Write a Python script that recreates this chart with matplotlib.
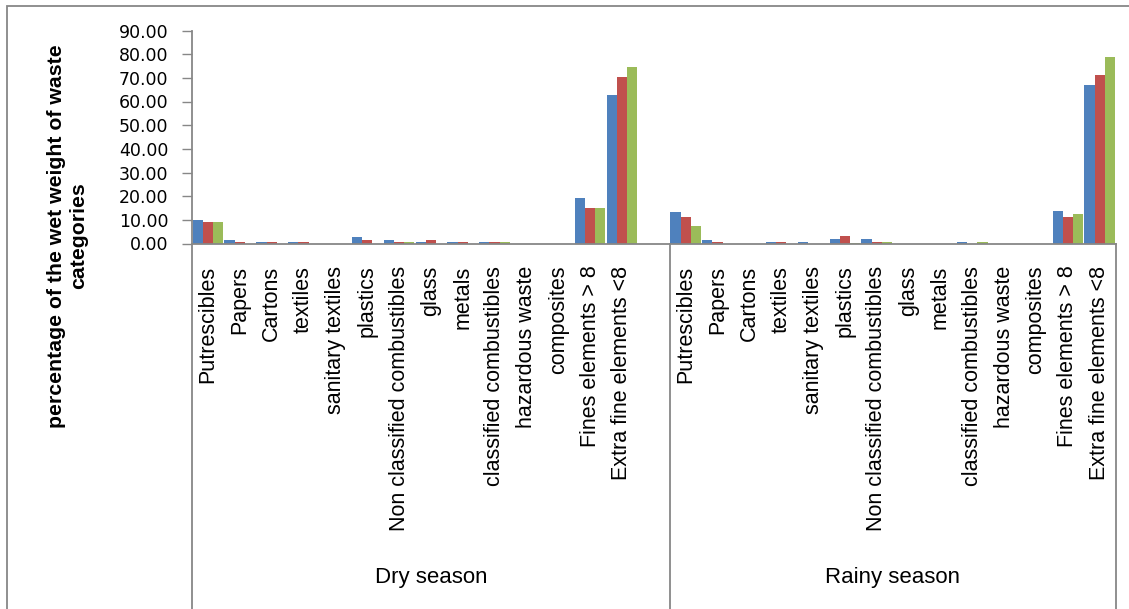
import matplotlib
matplotlib.use("Agg")
import matplotlib.pyplot as plt
import matplotlib.transforms as mtransforms
from matplotlib.patches import Rectangle
import numpy as np

# --- data -------------------------------------------------------------
categories = [
    "Putrescibles", "Papers", "Cartons", "textiles", "sanitary textiles",
    "plastics", "Non classified combustibles", "glass", "metals",
    "classified combustibles", "hazardous waste", "composites",
    "Fines elements > 8", "Extra fine elements <8",
]
seasons = ["Dry season", "Rainy season"]

dry_s1 = [9.9, 1.3, 0.5, 0.5, 0.0, 2.8, 1.3, 0.5, 0.5, 0.5, 0.0, 0.0, 19.2, 62.7]
dry_s2 = [9.1, 0.5, 0.5, 0.5, 0.0, 1.6, 0.5, 1.3, 0.5, 0.5, 0.0, 0.0, 15.0, 70.3]
dry_s3 = [9.1, 0.0, 0.0, 0.0, 0.0, 0.0, 0.5, 0.0, 0.0, 0.5, 0.0, 0.0, 15.0, 74.6]

rainy_s1 = [13.3, 1.3, 0.0, 0.5, 0.5, 1.7, 1.7, 0.0, 0.0, 0.5, 0.0, 0.0, 13.7, 67.0]
rainy_s2 = [11.2, 0.5, 0.0, 0.5, 0.0, 3.0, 0.5, 0.0, 0.0, 0.0, 0.0, 0.0, 11.2, 71.2]
rainy_s3 = [7.4, 0.0, 0.0, 0.0, 0.0, 0.3, 0.5, 0.0, 0.0, 0.5, 0.0, 0.0, 12.5, 78.7]

y_ticks = [0, 10, 20, 30, 40, 50, 60, 70, 80, 90]

# --- styling ----------------------------------------------------------
colors = ["#4F81BD", "#C0504D", "#9BBB59"]
grey = "#878787"
plt.rcParams["font.family"] = ["Liberation Sans", "DejaVu Sans"]

W, H = 1129, 609
fig = plt.figure(figsize=(W / 100, H / 100), dpi=100)

# plot area in pixels
x0, x1 = 192, 1115.6
y_base, y_top = 243.5, 30.5
ax = fig.add_axes([x0 / W, 1 - y_base / H, (x1 - x0) / W, (y_base - y_top) / H])

n = len(categories)
# dry season occupies slots 0..n (last slot empty), rainy season follows
dry_pos = np.arange(n)
rainy_pos = np.arange(n) + n + 1
n_slots = 2 * n + 1

bw = 0.32
series_dry = [dry_s1, dry_s2, dry_s3]
series_rainy = [rainy_s1, rainy_s2, rainy_s3]
for k in range(3):
    off = (k - 1) * bw
    ax.bar(dry_pos + off, series_dry[k], width=bw, color=colors[k], linewidth=0)
    ax.bar(rainy_pos + off, series_rainy[k], width=bw, color=colors[k], linewidth=0)

ax.set_xlim(-0.5, n_slots - 0.5)
ax.set_ylim(0, 90)
ax.set_yticks(y_ticks)
ax.set_yticklabels([f"{v:.2f}" for v in y_ticks], fontsize=12.5,
                   family="DejaVu Sans")
ax.tick_params(axis="y", length=7, width=1, color=grey, pad=10)

ax.set_xticks(np.concatenate([dry_pos, rainy_pos]))
ax.set_xticklabels(categories + categories, rotation=90, fontsize=15.5)
ax.tick_params(axis="x", length=0, pad=16)

for side in ("top", "right"):
    ax.spines[side].set_visible(False)
for side in ("left", "bottom"):
    ax.spines[side].set_color(grey)
    ax.spines[side].set_linewidth(1.3)

# category-axis separators running down through the label area
trans = mtransforms.blended_transform_factory(ax.transData, ax.transAxes)
y_low = -(H - y_base) / (y_base - y_top)
for xs in (-0.5, n + 0.5, n_slots - 0.5):
    ax.plot([xs, xs], [0, y_low], transform=trans, color=grey,
            lw=1.3, clip_on=False)

# season labels
y_season = -(578 - y_base) / (y_base - y_top)
ax.text((-0.5 + n + 0.5) / 2, y_season, seasons[0], transform=trans,
        ha="center", va="center", fontsize=16)
ax.text((n + 0.5 + n_slots - 0.5) / 2, y_season, seasons[1], transform=trans,
        ha="center", va="center", fontsize=16)

# y-axis title
fig.text(67.5 / W, 1 - 236 / H,
         "percentage of the wet weight of waste\ncategories",
         rotation=90, ha="center", va="center", fontsize=15.3,
         fontweight="bold", multialignment="center")

# chart frame
fig.patches.append(Rectangle((7 / W, -0.05), 1.2, 1 - 6 / H + 0.05,
                             transform=fig.transFigure, fill=False,
                             edgecolor=grey, lw=1.3))

fig.savefig("out.png", dpi=100)
